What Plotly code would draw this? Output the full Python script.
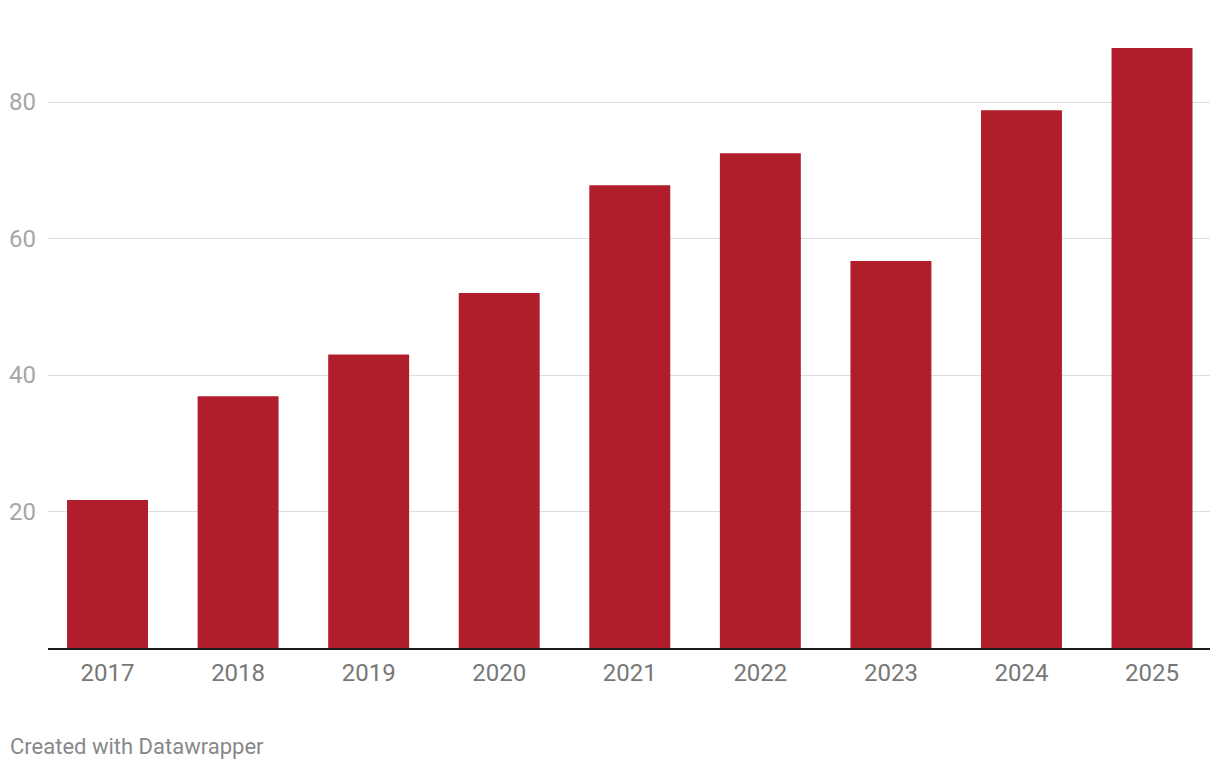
import plotly.graph_objects as go

years = ["2017", "2018", "2019", "2020", "2021", "2022", "2023", "2024", "2025"]
values = [21.7, 36.9, 43.0, 52.0, 67.8, 72.5, 56.7, 78.8, 87.9]
y_ticks = [20, 40, 60, 80]

# page body has an 8px offset; work in figure coordinates
W, H = 1204, 754
L, R, T, B = 40, 2, 22, 114
axis_y = H - B  # 640 in figure coords

fig = go.Figure(go.Bar(
    x=years, y=values,
    marker=dict(color="#b01e2b", line=dict(width=0)),
    hoverinfo="x+y",
))

fig.update_layout(
    width=W, height=H,
    margin=dict(l=L, r=R, t=T, b=B),
    paper_bgcolor="white", plot_bgcolor="white",
    font=dict(family="Roboto", size=24, color="#777777"),
    bargap=0.38,
    showlegend=False,
    xaxis=dict(
        type="category",
        range=[-0.456, 8.444],
        showline=True, linecolor="#1a1a1a", linewidth=2,
        showgrid=False, zeroline=False,
        ticks="outside", ticklen=0, tickcolor="white",
        ticklabelstandoff=2,
        tickfont=dict(family="Roboto", size=24, color="#777777"),
    ),
    yaxis=dict(
        range=[0, (axis_y - T) / (546 / 80)],
        tickvals=y_ticks,
        ticktext=[str(v) for v in y_ticks],
        showgrid=True, gridcolor="#dedede", gridwidth=1,
        zeroline=False, showline=False,
        ticks="", ticklabelstandoff=11,
        tickfont=dict(family="Roboto", size=24, color="#a6a6a6"),
    ),
    annotations=[dict(
        text="Created with Datawrapper",
        xref="paper", yref="paper",
        x=(0 - L) / (W - L - R), y=-(738 - axis_y) / (axis_y - T),
        xanchor="left", yanchor="middle",
        showarrow=False,
        font=dict(family="Roboto", size=22, color="#888888"),
    )],
)

fig.write_html("out.html")
